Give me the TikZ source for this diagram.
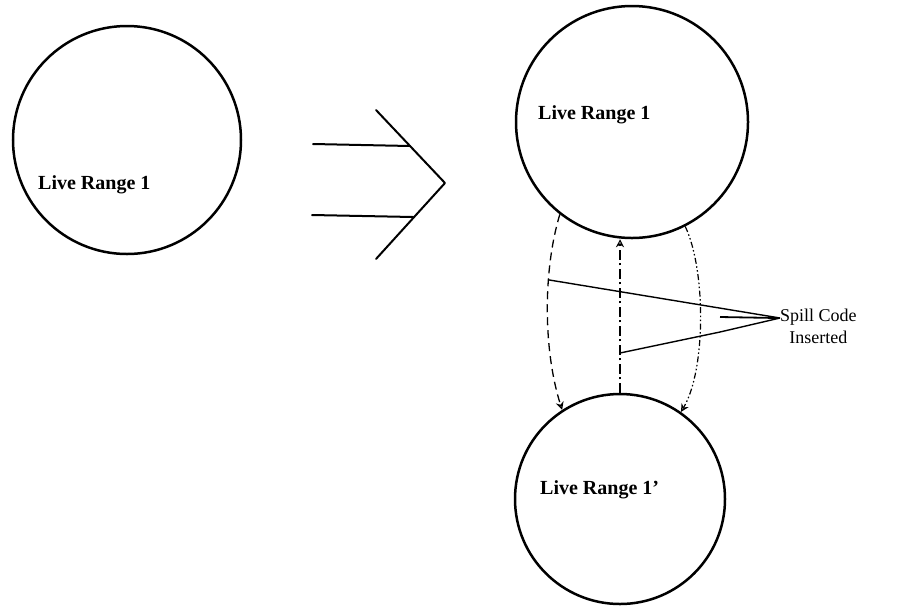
\documentclass[tikz,border=0pt]{standalone}
\usepackage{fontspec}
\setmainfont{Liberation Serif}
\usetikzlibrary{arrows.meta}
\begin{document}
\begin{tikzpicture}[x=1pt,y=-1pt,
  lr/.style={circle,draw,line width=2.5pt,inner sep=0pt},
  lrtext/.style={anchor=west,inner sep=0pt,font=\fontsize{20}{24}\selectfont\bfseries},
  solidline/.style={line width=2pt,line cap=round,line join=round},
  thinline/.style={line width=1.4pt},
  tip/.style={-{Stealth[open,length=8pt,width=8pt]}},
  dashA/.style={line width=1.3pt,dash pattern=on 8pt off 5pt},
  dashB/.style={line width=1.1pt,dash pattern=on 10pt off 3.5pt on 2pt off 3.5pt},
  dashC/.style={line width=1.2pt,dash pattern=on 6pt off 2.5pt on 1.5pt off 2.5pt on 1.5pt off 2.5pt}]
\useasboundingbox (0,0) rectangle (904,606);
% circles
\node[lr,minimum size=228pt] (L) at (127,140) {};
\node[lr,minimum size=232pt] (T) at (632,122) {};
\node[lr,minimum size=210pt] (B) at (620,499) {};
% texts
\node[lrtext] (Lt) at (38,185) {Live Range 1};
\node[lrtext] (Tt) at (538,115) {Live Range 1};
\node[lrtext] (Bt) at (540,490) {Live Range 1'};
% big arrow
\coordinate (a1) at (313,144);
\coordinate (a2) at (410,146);
\coordinate (a3) at (312,215);
\coordinate (a4) at (413,217);
\coordinate (c1) at (376,110);
\coordinate (c2) at (445,183);
\coordinate (c3) at (376,259);
\draw[solidline] (a1) -- (a2);
\draw[solidline] (a3) -- (a4);
\draw[solidline] (c1) -- (c2) -- (c3);
% spill connectors
\draw[dashA,tip] (T.232) .. controls (543,270) and (543,350) .. coordinate[pos=0.35] (p1) (B.123);
\draw[dashB,tip] (B.north) -- (B.north |- T.south);
\draw[dashC,tip] (T.297) .. controls (706,270) and (706,370) .. (B.55);
\coordinate (p2) at (620,353);
% label
\node[font=\fontsize{18}{22}\selectfont,align=center,anchor=west,inner sep=0pt] (S) at (780,326) {Spill Code\\Inserted};
\coordinate (tp) at (780,318);
\draw[thinline] (p1) -- (tp);
\draw[thinline] (p2) -- (720,332) -- (tp);
\draw[line width=1.8pt] (720,317) -- (777,318);
\end{tikzpicture}
\end{document}
